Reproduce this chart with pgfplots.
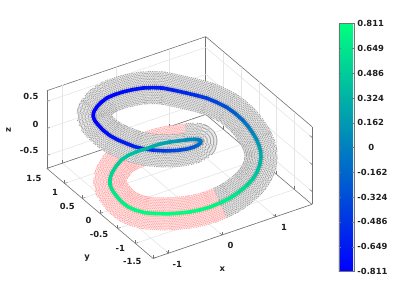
\documentclass[border=0pt]{standalone}
\usepackage{fontspec}
\setmainfont{DejaVu Sans}
\usepackage{pgfplots}
\usepackage{pgfplotstable}
\pgfplotsset{compat=1.18}
\definecolor{lab}{gray}{0.12}
\definecolor{boxc}{gray}{0.45}
\definecolor{gridc}{gray}{0.90}
\definecolor{pinkd}{rgb}{1,0.66,0.66}
\definecolor{pinkl}{rgb}{1,0.89,0.89}
\definecolor{greyd}{gray}{0.64}
\definecolor{greyl}{gray}{0.91}
\tikzset{lbl/.style={font=\fontsize{8.4}{10}\selectfont\bfseries, text=lab}}
\pgfplotsset{
  colormap={wintercool}{rgb255=(0,0,255) rgb255=(0,255,128)},
}
\pgfplotstableread{
x y z
0.367 -0.891 -0.608
0.190 -0.871 -0.638
0.030 -0.834 -0.655
-0.124 -0.780 -0.672
-0.2785 -0.709 -0.6805
-0.433 -0.626 -0.689
-0.597 -0.540 -0.676
-0.745 -0.447 -0.663
-0.850 -0.345 -0.6375
-0.920 -0.233 -0.612
-0.950 -0.105 -0.5865
-0.952 0.030 -0.561
-0.939 0.173 -0.5355
-0.901 0.306 -0.510
-0.833 0.409 -0.48
-0.736 0.497 -0.450
-0.597 0.585 -0.4165
-0.448 0.650 -0.383
-0.317 0.668 -0.3615
-0.202 0.655 -0.340
-0.117 0.615 -0.306
-0.038 0.564 -0.272
0.056 0.531 -0.2425
0.155 0.488 -0.213
0.256 0.410 -0.1705
0.355 0.311 -0.128
0.457 0.192 -0.0725
0.531 0.069 -0.017
}\pinkpts
\pgfplotstableread{
x y z
0.367 -0.891 -0.608
0.547 -0.897 -0.578
0.722 -0.891 -0.523
0.882 -0.870 -0.468
1.012 -0.837 -0.4125
1.126 -0.784 -0.357
1.237 -0.695 -0.306
1.328 -0.592 -0.255
1.385 -0.495 -0.2125
1.417 -0.401 -0.170
1.425 -0.318 -0.1065
1.417 -0.231 -0.043
1.407 -0.122 0.021
1.380 -0.004 0.085
1.323 0.118 0.1615
1.241 0.238 0.238
1.134 0.352 0.302
1.010 0.454 0.366
0.879 0.530 0.417
0.737 0.605 0.468
0.583 0.711 0.5105
0.425 0.811 0.553
0.277 0.878 0.574
0.123 0.921 0.595
-0.057 0.938 0.6165
-0.241 0.935 0.638
-0.414 0.917 0.655
-0.577 0.879 0.672
-0.730 0.811 0.68
-0.865 0.727 0.689
-0.977 0.641 0.689
-1.059 0.546 0.689
-1.100 0.443 0.676
-1.112 0.326 0.663
-1.110 0.180 0.6375
-1.081 0.033 0.612
-1.009 -0.091 0.574
-0.916 -0.198 0.536
-0.833 -0.287 0.502
-0.724 -0.360 0.468
-0.546 -0.423 0.4125
-0.345 -0.464 0.357
-0.148 -0.472 0.306
0.038 -0.450 0.255
0.199 -0.393 0.204
0.333 -0.316 0.153
0.438 -0.230 0.1105
0.508 -0.136 0.068
0.541 -0.037 0.0255
0.531 0.069 -0.017
0.457 0.192 -0.0725
}\greypts
\newcommand\ring[6]{%
  \addplot3[smooth, no markers, line join=round, color=#2, line width=#4pt, dash pattern=on 1.1pt off 0.9pt, dash phase=#6pt] table[x=x,y=y,z=z] {#1};
  \addplot3[smooth, no markers, line join=round, color=#3, line width=#5pt] table[x=x,y=y,z=z] {#1};
}
\newcommand\band[3]{%
  \ring{#1}{#2}{#3}{33}{31}{0}
  \ring{#1}{#2}{#3}{29.8}{27.8}{1}
  \ring{#1}{#2}{#3}{26.6}{24.6}{0}
  \ring{#1}{#2}{#3}{23.4}{21.4}{1}
  \ring{#1}{#2}{#3}{20.2}{18.2}{0}
  \ring{#1}{#2}{#3}{17}{15}{1}
  \ring{#1}{#2}{#3}{13.8}{11.8}{0}
  \ring{#1}{#2}{#3}{10.6}{8.6}{1}
  \addplot3[smooth, no markers, line join=round, color=#2, line width=7.4pt, dash pattern=on 1.1pt off 0.9pt] table[x=x,y=y,z=z] {#1};
}
\begin{document}
\begin{tikzpicture}[x=1pt,y=1pt]
\useasboundingbox (0,0) rectangle (407,305);
\begin{axis}[
  disabledatascaling,
  x={(53.5pt,18.2pt)}, y={(-35.4pt,30pt)}, z={(0pt,54pt)},
  at={(169pt,155pt)}, anchor=origin,
  xmin=-1.29, xmax=1.68, ymin=-1.5, ymax=1.5, zmin=-0.74, zmax=0.70,
  xtick={-1,0,1}, ytick={-1.5,-1,-0.5,0,0.5,1,1.5}, ztick={-0.5,0,0.5},
  yticklabels={-1.5,-1,-0.5,0,0.5,1,1.5},
  xticklabels={-1,0,1}, zticklabels={-0.5,0,0.5},
  grid=major, grid style={gridc, line width=0.6pt},
  axis line style={boxc, line width=0.6pt},
  tick style={boxc, line width=0.5pt},
  tick align=inside, major tick length=3pt,
  xtick pos=left, ytick pos=left, ztick pos=left,
  ticklabel style={lbl},
  xticklabel style={xshift=5pt,yshift=-3pt},
  yticklabel style={anchor=east,xshift=-6pt+(\ticknum-2)*1pt,yshift=-7pt+(3-\ticknum)*1.15pt},
  zticklabel style={xshift=-5pt,yshift=3pt},
  label style={lbl},
  clip=false,
  xlabel={x}, ylabel={y}, zlabel={z},
  xlabel style={xshift=-23pt,yshift=-10pt},
  ylabel style={xshift=9pt,yshift=-14pt},
  zlabel style={xshift=-8pt,yshift=1pt},
  colorbar,
  point meta min=-0.811, point meta max=0.811,
  colorbar style={
    at={(1.1015,-0.059)}, anchor=south west,
    width=15pt, height=248pt,
    ytick={-0.811,-0.649,-0.486,-0.324,-0.162,0,0.162,0.324,0.486,0.649,0.811},
    yticklabels={-0.811,-0.649,-0.486,-0.324,-0.162,\hspace*{11pt}0,0.162,0.324,0.486,0.649,0.811},
    yticklabel style={lbl,xshift=0pt,yshift=0pt},
    axis line style={boxc, line width=0.6pt},
    ytick style={boxc},
    major tick length=2pt,
    tick align=inside,
  },
]
\band{\pinkpts}{pinkd}{pinkl}
\band{\greypts}{greyd}{greyl}
% coloured curve
\addplot3[mesh, point meta=explicit, no markers, line width=3.6pt, line cap=round, shader=flat] coordinates {
(-0.433,-0.626,-0.689)[0.81]
(-0.597,-0.540,-0.676)[0.795]
(-0.745,-0.447,-0.663)[0.78]
(-0.850,-0.345,-0.6375)[0.75]
(-0.920,-0.233,-0.612)[0.72]
(-0.950,-0.105,-0.5865)[0.69]
(-0.952,0.030,-0.561)[0.66]
(-0.939,0.173,-0.5355)[0.63]
(-0.901,0.306,-0.510)[0.60]
(-0.833,0.409,-0.48)[0.565]
(-0.736,0.497,-0.450)[0.53]
(-0.597,0.585,-0.4165)[0.49]
(-0.448,0.650,-0.383)[0.45]
(-0.317,0.668,-0.3615)[0.425]
(-0.202,0.655,-0.340)[0.40]
(-0.117,0.615,-0.306)[0.36]
(-0.038,0.564,-0.272)[0.32]
(0.056,0.531,-0.2425)[0.285]
(0.155,0.488,-0.213)[0.25]
(0.256,0.410,-0.1705)[0.20]
(0.355,0.311,-0.128)[0.15]
(0.457,0.192,-0.0725)[0.085]
(0.531,0.069,-0.017)[0.02]
(0.541,-0.037,0.0255)[-0.03]
(0.508,-0.136,0.068)[-0.08]
(0.438,-0.230,0.1105)[-0.13]
(0.333,-0.316,0.153)[-0.18]
(0.199,-0.393,0.204)[-0.24]
(0.038,-0.450,0.255)[-0.30]
(-0.148,-0.472,0.306)[-0.36]
(-0.345,-0.464,0.357)[-0.42]
(-0.546,-0.423,0.4125)[-0.485]
(-0.724,-0.360,0.468)[-0.55]
(-0.833,-0.287,0.502)[-0.59]
(-0.916,-0.198,0.536)[-0.63]
(-1.009,-0.091,0.574)[-0.675]
(-1.081,0.033,0.612)[-0.72]
(-1.110,0.180,0.6375)[-0.75]
(-1.112,0.326,0.663)[-0.78]
(-1.100,0.443,0.676)[-0.795]
(-1.059,0.546,0.689)[-0.81]
(-0.977,0.641,0.689)[-0.81]
(-0.865,0.727,0.689)[-0.81]
(-0.730,0.811,0.68)[-0.80]
(-0.577,0.879,0.672)[-0.79]
(-0.414,0.917,0.655)[-0.77]
(-0.241,0.935,0.638)[-0.75]
(-0.057,0.938,0.6165)[-0.725]
(0.123,0.921,0.595)[-0.70]
(0.277,0.878,0.574)[-0.675]
(0.425,0.811,0.553)[-0.65]
(0.583,0.711,0.5105)[-0.60]
(0.737,0.605,0.468)[-0.55]
(0.879,0.530,0.417)[-0.49]
(1.010,0.454,0.366)[-0.43]
(1.134,0.352,0.302)[-0.355]
(1.241,0.238,0.238)[-0.28]
(1.323,0.118,0.1615)[-0.19]
(1.380,-0.004,0.085)[-0.10]
(1.407,-0.122,0.021)[-0.025]
(1.417,-0.231,-0.043)[0.05]
(1.425,-0.318,-0.1065)[0.125]
(1.417,-0.401,-0.170)[0.20]
(1.385,-0.495,-0.2125)[0.25]
(1.328,-0.592,-0.255)[0.30]
(1.237,-0.695,-0.306)[0.36]
(1.126,-0.784,-0.357)[0.42]
(1.012,-0.837,-0.4125)[0.485]
(0.882,-0.870,-0.468)[0.55]
(0.722,-0.891,-0.523)[0.615]
(0.547,-0.897,-0.578)[0.68]
(0.367,-0.891,-0.608)[0.715]
(0.190,-0.871,-0.638)[0.75]
(0.030,-0.834,-0.655)[0.77]
(-0.124,-0.780,-0.672)[0.79]
(-0.2785,-0.709,-0.6805)[0.80]
(-0.433,-0.626,-0.689)[0.81]
};
\end{axis}
\end{tikzpicture}
\end{document}
